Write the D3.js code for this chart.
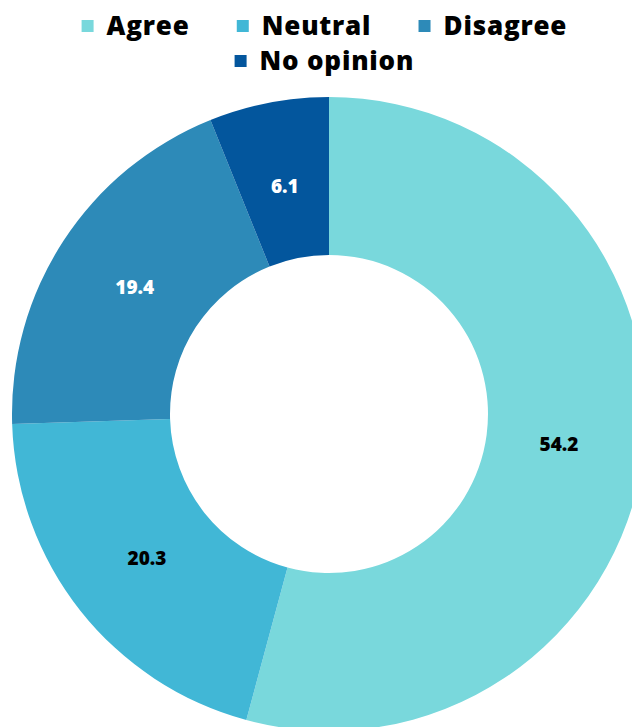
<!DOCTYPE html>
<html>
<head>
<meta charset="utf-8">
<script src="https://cdn.jsdelivr.net/npm/d3@7"></script>
<style>
  html, body { margin: 0; padding: 0; background: #fff; }
  svg { display: block; }
  text { font-family: "Open Sans", "Noto Sans", sans-serif; font-weight: 800; }
</style>
</head>
<body>
<svg id="chart" width="632" height="727"></svg>
<script>
// Survey responses (percent)
const categories = ["Agree", "Neutral", "Disagree", "No opinion"];
const values = [54.2, 20.3, 19.4, 6.1];
const colors = ["#79d8dc", "#41b7d6", "#2d8ab8", "#03569d"];
const labelColors = ["#000000", "#000000", "#ffffff", "#ffffff"];

const width = 632, height = 727;
const svg = d3.select("#chart");

const cx = 329, cy = 414;
const outerR = 317, innerR = 159;

const color = d3.scaleOrdinal().domain(categories).range(colors);
const labelColor = d3.scaleOrdinal().domain(categories).range(labelColors);

const pie = d3.pie().sort(null).value(d => d.value);
const data = categories.map((c, i) => ({ category: c, value: values[i] }));
const arcs = pie(data);

const arc = d3.arc().innerRadius(innerR).outerRadius(outerR);
const labelR = 232;
const labelArc = d3.arc().innerRadius(labelR).outerRadius(labelR);

const g = svg.append("g").attr("transform", `translate(${cx},${cy})`);

g.selectAll("path.slice")
  .data(arcs)
  .join("path")
  .attr("class", "slice")
  .attr("d", arc)
  .attr("fill", d => color(d.data.category));

g.selectAll("text.value")
  .data(arcs)
  .join("text")
  .attr("class", "value")
  .attr("transform", d => `translate(${labelArc.centroid(d)})`)
  .attr("text-anchor", "middle")
  .attr("dy", "0.35em")
  .attr("font-size", 19)
  .attr("fill", d => labelColor(d.data.category))
  .text(d => d.data.value.toFixed(1));

// Legend: two centred rows
const legendRows = [categories.slice(0, 3), categories.slice(3)];
const rowY = [26, 61];
const sq = 12, sqGap = 13, itemGap = 48, fontSize = 26, letterSpace = 0.8;
const legend = svg.append("g");

legendRows.forEach((row, ri) => {
  const rowG = legend.append("g");
  let x = 0;
  row.forEach(cat => {
    const item = rowG.append("g").attr("transform", `translate(${x},0)`);
    item.append("rect")
      .attr("x", 0).attr("y", -sq / 2)
      .attr("width", sq).attr("height", sq)
      .attr("fill", color(cat));
    const t = item.append("text")
      .attr("x", sq + sqGap)
      .attr("dy", "0.35em")
      .attr("font-size", fontSize)
      .attr("letter-spacing", letterSpace)
      .attr("fill", "#000")
      .text(cat);
    x += sq + sqGap + t.node().getComputedTextLength() - letterSpace + itemGap;
  });
  const total = x - itemGap;
  rowG.attr("transform", `translate(${324 - total / 2},${rowY[ri]})`);
});
</script>
</body>
</html>
